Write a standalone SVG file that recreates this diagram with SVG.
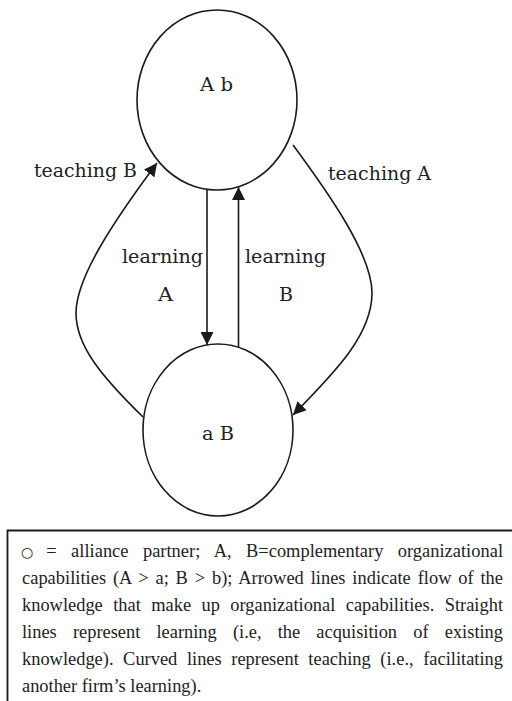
<svg xmlns="http://www.w3.org/2000/svg" width="512" height="701" viewBox="0 0 512 701">
<style>
.node{fill:none;stroke:#1a1a1a;stroke-width:1.6}
.conn{fill:none;stroke:#1a1a1a;stroke-width:1.6}
.lbl{font-family:"DejaVu Serif","Liberation Serif",serif;font-size:18px;fill:#222}
.cap{font-family:"Liberation Serif","Times New Roman",serif;font-size:18.4px;fill:#222}
</style>
<defs>
<marker id="arr" markerUnits="userSpaceOnUse" markerWidth="14" markerHeight="13" refX="13" refY="6.5" orient="auto">
<path d="M0,0 L13,6.5 L0,13 z" fill="#1a1a1a"/>
</marker>
</defs>
<rect width="512" height="701" fill="#fff"/>
<g id="node-Ab">
<ellipse class="node" cx="217" cy="100" rx="80" ry="90"/>
<text class="lbl" x="200" y="91" textLength="33" lengthAdjust="spacingAndGlyphs">A b</text>
</g>
<g id="node-aB">
<ellipse class="node" cx="218" cy="430" rx="75" ry="86"/>
<text class="lbl" x="202" y="440" textLength="32" lengthAdjust="spacingAndGlyphs">a B</text>
</g>
<g id="connectors">
<line class="conn" x1="207" y1="189.5" x2="207" y2="345" marker-end="url(#arr)"/>
<line class="conn" x1="238.5" y1="347" x2="238.5" y2="187" marker-end="url(#arr)"/>
<path class="conn" d="M143,417 C100,375 76,345 76,313 C76,278 113,222 157,163" marker-end="url(#arr)"/>
<path class="conn" d="M293,145 C330,195 372,255 372,293 C372,335 335,372 293,415" marker-end="url(#arr)"/>
<text class="lbl" x="34" y="176.5" textLength="103" lengthAdjust="spacingAndGlyphs">teaching B</text>
<text class="lbl" x="328" y="180" textLength="103" lengthAdjust="spacingAndGlyphs">teaching A</text>
<text class="lbl" x="122" y="263" textLength="81" lengthAdjust="spacingAndGlyphs">learning</text>
<text class="lbl" x="158" y="301" textLength="15" lengthAdjust="spacingAndGlyphs">A</text>
<text class="lbl" x="245" y="263" textLength="81" lengthAdjust="spacingAndGlyphs">learning</text>
<text class="lbl" x="279" y="301" textLength="14" lengthAdjust="spacingAndGlyphs">B</text>
</g>
<g id="legend">
<path d="M7.5,701 L7.5,530.5 L512,530.5" fill="none" stroke="#1a1a1a" stroke-width="1.8"/>
<text x="21" y="556.5" font-family="'DejaVu Sans',sans-serif" font-size="14" fill="#222">○</text>
<text class="cap" x="46.3" y="556.5" textLength="456.7" lengthAdjust="spacing" word-spacing="9.8">= alliance partner; A, B=complementary organizational</text>
<text class="cap" x="22" y="583.5" textLength="481" lengthAdjust="spacing" word-spacing="2.2">capabilities (A &gt; a; B &gt; b); Arrowed lines indicate flow of the</text>
<text class="cap" x="22" y="610.5" textLength="481" lengthAdjust="spacing" word-spacing="5.8">knowledge that make up organizational capabilities. Straight</text>
<text class="cap" x="22" y="637.5" textLength="481" lengthAdjust="spacing" word-spacing="11.6">lines represent learning (i.e, the acquisition of existing</text>
<text class="cap" x="22" y="664.5" textLength="481" lengthAdjust="spacing" word-spacing="5">knowledge). Curved lines represent teaching (i.e., facilitating</text>
<text class="cap" x="22" y="691.5">another firm’s learning).</text>
</g>
</svg>
